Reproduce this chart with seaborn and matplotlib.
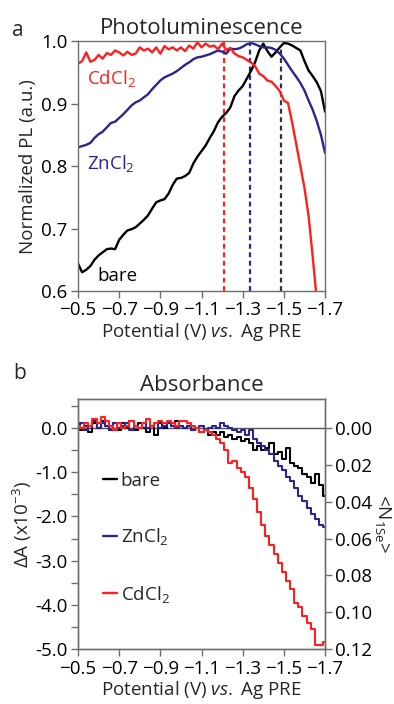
import matplotlib
matplotlib.use("Agg")
import matplotlib.pyplot as plt
from matplotlib.ticker import MultipleLocator, FormatStrFormatter
import numpy as np
import pandas as pd
import seaborn as sns

# ---- panel a: normalized photoluminescence vs potential ----
V_PL = np.round(np.arange(-0.50, -1.7001, -0.02), 2)

PL_BARE = [0.644, 0.630, 0.634, 0.640, 0.650, 0.657, 0.662, 0.667, 0.668, 0.667,
           0.682, 0.690, 0.697, 0.699, 0.702, 0.708, 0.714, 0.721, 0.732, 0.742,
           0.745, 0.747, 0.756, 0.770, 0.780, 0.781, 0.784, 0.789, 0.804, 0.815,
           0.824, 0.833, 0.845, 0.856, 0.870, 0.879, 0.885, 0.894, 0.912, 0.921,
           0.928, 0.940, 0.952, 0.966, 0.985, 0.996, 0.984, 0.975, 0.982, 0.990,
           0.997, 0.996, 0.993, 0.989, 0.985, 0.968, 0.953, 0.944, 0.934, 0.920,
           0.887]
PL_ZN = [0.830, 0.832, 0.834, 0.837, 0.845, 0.851, 0.855, 0.862, 0.869, 0.871,
         0.877, 0.883, 0.890, 0.897, 0.902, 0.905, 0.910, 0.915, 0.923, 0.930,
         0.937, 0.942, 0.945, 0.948, 0.952, 0.957, 0.962, 0.966, 0.971, 0.974,
         0.975, 0.977, 0.979, 0.982, 0.985, 0.983, 0.980, 0.988, 0.987, 0.988,
         0.991, 0.995, 0.997, 0.995, 0.992, 0.990, 0.990, 0.989, 0.986, 0.980,
         0.972, 0.962, 0.952, 0.943, 0.933, 0.921, 0.905, 0.890, 0.872, 0.850,
         0.821]
PL_CD = [0.964, 0.968, 0.982, 0.967, 0.970, 0.978, 0.972, 0.981, 0.978, 0.985,
         0.982, 0.977, 0.983, 0.978, 0.980, 0.990, 0.985, 0.988, 0.982, 0.990,
         0.980, 0.992, 0.987, 0.990, 0.985, 0.990, 0.984, 0.993, 0.988, 0.998,
         0.990, 0.996, 0.991, 0.993, 0.987, 0.996, 0.986, 0.989, 0.980, 0.976,
         0.974, 0.970, 0.966, 0.960, 0.948, 0.944, 0.937, 0.935, 0.928, 0.920,
         0.905, 0.901, 0.870, 0.835, 0.800, 0.765, 0.720, 0.655, 0.585, 0.500,
         0.400]

PEAK_V = [-1.21, -1.335, -1.487]
PEAK_TOP = [0.999, 0.996, 0.991]

# ---- panel b: absorbance change vs potential ----
V_ABS = V_PL

DA_BARE = [0.10, -0.05, 0.05, -0.10, 0.10, 0.00, 0.15, 0.05, -0.05, 0.10,
           -0.05, 0.10, 0.00, 0.15, -0.05, 0.10, 0.00, -0.10, 0.05, -0.15,
           0.10, 0.00, 0.10, 0.05, 0.15, 0.05, 0.00, 0.05, -0.05, 0.00,
           -0.10, -0.05, -0.15, -0.10, -0.15, -0.10, -0.20, -0.15, -0.25, -0.20,
           -0.30, -0.25, -0.35, -0.50, -0.40, -0.50, -0.45, -0.35, -0.60, -0.55,
           -0.70, -0.45, -0.80, -0.85, -0.90, -1.05, -1.10, -1.25, -1.05, -1.30,
           -1.55]
DA_ZN = [0.00, 0.10, -0.05, 0.05, 0.15, 0.00, 0.10, 0.05, -0.05, 0.10,
         0.00, 0.05, 0.10, -0.05, 0.05, 0.00, 0.10, 0.00, 0.05, 0.10,
         0.00, 0.05, 0.10, 0.05, 0.00, 0.05, 0.00, 0.05, -0.05, 0.00,
         0.05, -0.05, 0.00, 0.05, 0.00, 0.10, 0.05, 0.00, -0.05, -0.10,
         -0.05, -0.15, -0.05, -0.25, -0.35, -0.40, -0.50, -0.60, -0.75, -0.85,
         -0.95, -1.10, -1.20, -1.35, -1.55, -1.65, -1.80, -1.95, -2.05, -2.20,
         -2.25]
DA_CD = [0.05, 0.00, 0.10, 0.05, 0.20, 0.10, 0.25, 0.15, 0.05, -0.05,
         0.10, 0.00, 0.05, 0.15, 0.05, 0.00, 0.10, 0.20, 0.05, 0.10,
         0.15, 0.10, 0.15, 0.10, 0.05, 0.15, 0.15, 0.10, 0.05, 0.00,
         -0.10, -0.05, -0.10, -0.15, -0.25, -0.35, -0.50, -0.80, -0.75, -0.90,
         -1.00, -1.10, -1.35, -1.60, -1.90, -2.20, -2.45, -2.65, -2.85, -3.05,
         -3.25, -3.45, -3.65, -3.95, -4.05, -4.25, -4.40, -4.55, -4.90, -4.90,
         -4.85]

SERIES = ["bare", "ZnCl$_2$", "CdCl$_2$"]
COLORS = ["#000000", "#2A2590", "#FF1F1F"]
N_PER_DA = 0.024  # <N1Se> per unit of -dA (x1e-3)

FONT = "Open Sans"
SPINE = "#6E6E6E"


def style_axes(ax):
    for sp in ax.spines.values():
        sp.set_color(SPINE)
        sp.set_linewidth(1.0)
        sp.set_visible(True)
    ax.tick_params(which="both", direction="out", color=SPINE, width=1.0,
                   labelsize=13.5, labelcolor="black", pad=2.5)
    ax.tick_params(which="major", length=5)
    ax.tick_params(which="minor", length=5)


def main():
    sns.set_theme(style="ticks")
    plt.rcParams["font.family"] = [FONT, "DejaVu Sans"]
    plt.rcParams["mathtext.fontset"] = "custom"
    plt.rcParams["mathtext.rm"] = FONT
    plt.rcParams["mathtext.it"] = FONT + ":italic"
    plt.rcParams["mathtext.default"] = "regular"

    fig = plt.figure(figsize=(3.94, 7.04), dpi=100)
    ax_a = fig.add_axes([0.198, 0.5866, 0.627, 0.355])
    ax_b = fig.add_axes([0.198, 0.078, 0.627, 0.355])

    # ---- panel a ----
    pl = pd.DataFrame({
        "V": np.tile(V_PL, 3),
        "PL": PL_BARE + PL_ZN + PL_CD,
        "sample": np.repeat(SERIES, len(V_PL)),
    })
    sns.lineplot(data=pl, x="V", y="PL", hue="sample", hue_order=SERIES,
                 palette=COLORS, linewidth=1.7, legend=False, ax=ax_a,
                 estimator=None, sort=False)
    ax_a.vlines(PEAK_V, 0.6, PEAK_TOP, colors=[COLORS[2], COLORS[1], "#333333"],
                linestyles=(0, (2.2, 1.6)), linewidth=1.6, zorder=1)
    ax_a.set_xlim(-0.5, -1.7)
    ax_a.set_ylim(0.6, 1.0)
    ax_a.set_xticks(np.round(np.arange(-0.5, -1.71, -0.2), 1))
    ax_a.yaxis.set_major_locator(MultipleLocator(0.1))
    ax_a.yaxis.set_major_formatter(FormatStrFormatter("%.1f"))
    style_axes(ax_a)
    ax_a.set_xlabel("Potential (V) $\\it{vs.}$ Ag PRE", fontsize=13.5, labelpad=1)
    ax_a.set_ylabel("Normalized PL (a.u.)", fontsize=13.5, labelpad=3)
    ax_a.set_title("Photoluminescence", fontsize=16, pad=5)
    ax_a.text(0.036, 0.852, "CdCl$_2$", color=COLORS[2], fontsize=13.5,
              transform=ax_a.transAxes, va="center")
    ax_a.text(0.036, 0.512, "ZnCl$_2$", color=COLORS[1], fontsize=13.5,
              transform=ax_a.transAxes, va="center")
    ax_a.text(0.077, 0.06, "bare", color=COLORS[0], fontsize=13.5,
              transform=ax_a.transAxes, va="center")
    fig.text(0.046, 0.957, "a", fontsize=15, va="center", ha="center")

    # ---- panel b ----
    ab = pd.DataFrame({
        "V": np.tile(V_ABS, 3),
        "dA": DA_BARE + DA_ZN + DA_CD,
        "sample": np.repeat(SERIES, len(V_ABS)),
    })
    ax_b.axhline(0, color="#555555", linewidth=1.0, zorder=1)
    sns.lineplot(data=ab, x="V", y="dA", hue="sample", hue_order=SERIES,
                 palette=COLORS, linewidth=1.5, ax=ax_b,
                 estimator=None, sort=False, drawstyle="steps-mid")
    ax_b.set_xlim(-0.5, -1.7)
    ax_b.set_ylim(-5.0, 0.65)
    ax_b.set_xticks(np.round(np.arange(-0.5, -1.71, -0.2), 1))
    ax_b.yaxis.set_major_locator(MultipleLocator(1.0))
    ax_b.yaxis.set_minor_locator(MultipleLocator(0.5))
    ax_b.yaxis.set_major_formatter(FormatStrFormatter("%.1f"))
    style_axes(ax_b)
    ax_b.set_xlabel("Potential (V) $\\it{vs.}$ Ag PRE", fontsize=13.5, labelpad=1)
    ax_b.set_ylabel("ΔA (x10$^{-3}$)", fontsize=13.5, labelpad=1)
    ax_b.set_title("Absorbance", fontsize=16, pad=6)
    fig.text(0.05, 0.47, "b", fontsize=15, va="center", ha="center")

    leg = ax_b.legend(loc="upper left", bbox_to_anchor=(0.07, 0.74),
                      frameon=False, fontsize=13.5, handlelength=0.75,
                      handletextpad=0.2, labelspacing=1.95, borderaxespad=0)
    for h in leg.get_lines():
        h.set_linewidth(1.7)

    ax_r = ax_b.twinx()
    lo, hi = ax_b.get_ylim()
    ax_r.set_ylim(-lo * N_PER_DA, -hi * N_PER_DA)
    ax_r.yaxis.set_major_locator(MultipleLocator(0.02))
    ax_r.yaxis.set_major_formatter(FormatStrFormatter("%.2f"))
    style_axes(ax_r)
    ax_r.set_ylabel("<N$_{1Se}$>", fontsize=13.5, rotation=270, labelpad=15)

    fig.savefig("out.png", dpi=100)
    plt.close(fig)


if __name__ == "__main__":
    main()
